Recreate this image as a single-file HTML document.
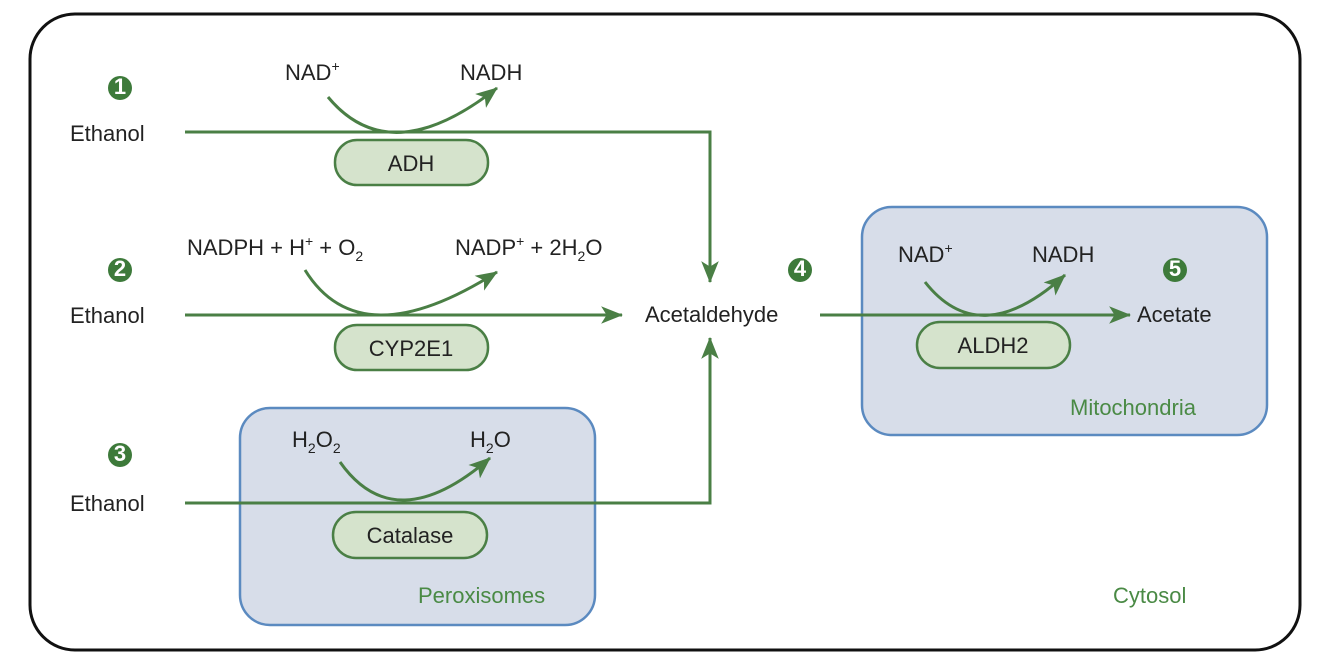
<!DOCTYPE html>
<html><head><style>body{margin:0;background:#fff}svg{display:block}text{font-family:"Liberation Sans",sans-serif;font-size:22px;fill:#222}</style></head><body>
<svg width="1334" height="665" viewBox="0 0 1334 665">
<defs>
<marker id="b" viewBox="0 0 20 16" markerWidth="22" markerHeight="18" refX="19" refY="8" orient="auto" markerUnits="userSpaceOnUse"><path d="M0,0 L20,8 L0,16 L5,8 Z" fill="#4a7f45"/></marker></defs>
<rect x="30" y="14" width="1270" height="636" rx="45" fill="#fff" stroke="#111" stroke-width="3"/>
<rect x="240" y="408" width="355" height="217" rx="30" fill="#d7dde9" stroke="#5b8ac0" stroke-width="2.5"/>
<rect x="862" y="207" width="405" height="228" rx="30" fill="#d7dde9" stroke="#5b8ac0" stroke-width="2.5"/>
<g fill="none" stroke="#4a7f45" stroke-width="3">
<path d="M185,132 H710 V282" marker-end="url(#b)"/>
<path d="M185,315 H622" marker-end="url(#b)"/>
<path d="M185,503 H710 V338" marker-end="url(#b)"/>
<path d="M820,315 H1130" marker-end="url(#b)"/>
<path d="M328,97 Q390,172 497,88" marker-end="url(#b)"/>
<path d="M305,270 Q360,359 497,272" marker-end="url(#b)"/>
<path d="M340,462 Q395,540 490,458" marker-end="url(#b)"/>
<path d="M925,282 Q980,352 1065,275" marker-end="url(#b)"/>
</g>
<g fill="#d5e3cc" stroke="#4a7f45" stroke-width="2.5">
<rect x="335" y="140" width="153" height="45" rx="22"/>
<rect x="335" y="325" width="153" height="45" rx="22"/>
<rect x="333" y="512" width="154" height="46" rx="23"/>
<rect x="917" y="322" width="153" height="46" rx="23"/>
</g>
<g fill="#3d7a3a"><circle cx="120" cy="88" r="12"/><circle cx="120" cy="270" r="12"/><circle cx="120" cy="455" r="12"/><circle cx="800" cy="270" r="12"/><circle cx="1175" cy="270" r="12"/></g>
<g style="font-size:15px;font-weight:bold" text-anchor="middle"><text x="120" y="94" style="fill:#fff">1</text><text x="120" y="276" style="fill:#fff">2</text><text x="120" y="461" style="fill:#fff">3</text><text x="800" y="276" style="fill:#fff">4</text><text x="1175" y="276" style="fill:#fff">5</text></g>
<text x="70" y="141">Ethanol</text><text x="70" y="323">Ethanol</text><text x="70" y="511">Ethanol</text>
<text x="285" y="80">NAD<tspan dy="-9" font-size="14">+</tspan></text><text x="460" y="80">NADH</text>
<text x="187" y="255">NADPH + H<tspan dy="-9" font-size="14">+</tspan><tspan dy="9"> + O</tspan><tspan dy="6" font-size="14">2</tspan></text>
<text x="455" y="255">NADP<tspan dy="-9" font-size="14">+</tspan><tspan dy="9"> + 2H</tspan><tspan dy="6" font-size="14">2</tspan><tspan dy="-6">O</tspan></text>
<text x="292" y="447">H<tspan dy="6" font-size="14">2</tspan><tspan dy="-6">O</tspan><tspan dy="6" font-size="14">2</tspan></text>
<text x="470" y="447">H<tspan dy="6" font-size="14">2</tspan><tspan dy="-6">O</tspan></text>
<text x="898" y="262">NAD<tspan dy="-9" font-size="14">+</tspan></text><text x="1032" y="262">NADH</text>
<g text-anchor="middle"><text x="411" y="171">ADH</text><text x="411" y="356">CYP2E1</text><text x="410" y="543">Catalase</text><text x="993" y="353">ALDH2</text></g>
<text x="645" y="322">Acetaldehyde</text><text x="1137" y="322">Acetate</text>
<text x="418" y="603" style="fill:#4a8a45">Peroxisomes</text><text x="1070" y="415" style="fill:#4a8a45">Mitochondria</text><text x="1113" y="603" style="fill:#4a8a45">Cytosol</text>
</svg></body></html>
